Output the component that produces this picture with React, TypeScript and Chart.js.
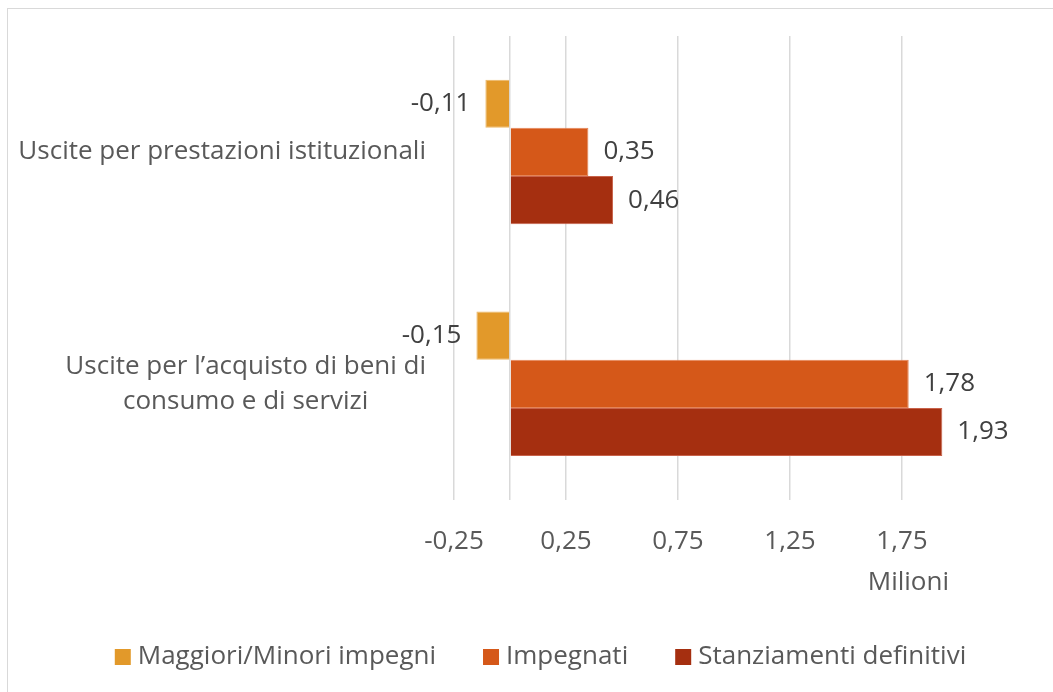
import React, { useEffect, useRef } from "react";
import { Chart, registerables } from "chart.js";

Chart.register(...registerables);

const categories: (string | string[])[] = [
  "Uscite per prestazioni istituzionali",
  ["Uscite per l’acquisto di beni di", "consumo e di servizi"],
];
const seriesNames = ["Maggiori/Minori impegni", "Impegnati", "Stanziamenti definitivi"];
const maggioriMinori = [-0.11, -0.15];
const impegnati = [0.35, 1.78];
const stanziamenti = [0.46, 1.93];
const xTicks = [-0.25, 0, 0.25, 0.75, 1.25, 1.75];
const unitLabel = "Milioni";

const colors = ["#E2992A", "#D55819", "#A52F10"];
const borders = ["#EDB866", "#E58456", "#C8624A"];
const FONT = '"Open Sans", sans-serif';
const FS = 26;

const fmt = (v: number) => v.toFixed(2).replace(".", ",");

const overlay = {
  id: "overlay",
  afterDatasetsDraw(chart: any) {
    const ctx = chart.ctx as CanvasRenderingContext2D;
    const ys = chart.scales.y;
    const area = chart.chartArea;
    ctx.save();
    ctx.font = `${FS}px ${FONT}`;
    ctx.textBaseline = "middle";

    // data labels
    ctx.fillStyle = "#404040";
    chart.data.datasets.forEach((ds: any, di: number) => {
      const meta = chart.getDatasetMeta(di);
      meta.data.forEach((bar: any, i: number) => {
        const v = ds.data[i] as number;
        const p = bar.getProps(["x", "y"], true);
        if (v < 0) {
          ctx.textAlign = "right";
          ctx.fillText(fmt(v), p.x - 15, p.y);
        } else {
          ctx.textAlign = "left";
          ctx.fillText(fmt(v), p.x + 15, p.y);
        }
      });
    });

    // category labels
    ctx.fillStyle = "#595959";
    (chart.data.labels as any[]).forEach((lab, i) => {
      const lines: string[] = Array.isArray(lab) ? lab : [lab];
      const y = ys.getPixelForValue(i);
      const right = area.left - 28;
      const maxW = Math.max(...lines.map((l) => ctx.measureText(l).width));
      const cx = right - maxW / 2;
      const lh = 35;
      ctx.textAlign = "center";
      lines.forEach((l, k) => ctx.fillText(l, cx, y + (k - (lines.length - 1) / 2) * lh));
    });

    // unit label
    ctx.textAlign = "right";
    ctx.fillText(unitLabel, area.right - 9, area.bottom + 83);

    // legend
    const box = 16;
    const gapText = 7;
    const gapItem = 47;
    const items = chart.data.datasets.map((ds: any) => ({
      label: ds.label as string,
      color: ds.backgroundColor as string,
      w: ctx.measureText(ds.label).width,
    }));
    const total =
      items.reduce((s: number, it: any) => s + box + gapText + it.w, 0) + gapItem * (items.length - 1);
    let x = chart.width / 2 + 10 - total / 2;
    const ly = chart.height - 35;
    ctx.textAlign = "left";
    items.forEach((it: any) => {
      ctx.fillStyle = it.color;
      ctx.fillRect(x, ly - box / 2, box, box);
      ctx.fillStyle = "#595959";
      ctx.fillText(it.label, x + box + gapText, ly);
      x += box + gapText + it.w + gapItem;
    });
    ctx.restore();
  },
};

export default function App() {
  const ref = useRef<HTMLCanvasElement>(null);
  useEffect(() => {
    if (!ref.current) return;
    const chart = new Chart(ref.current, {
      type: "bar",
      data: {
        labels: categories as any,
        datasets: [maggioriMinori, impegnati, stanziamenti].map((d, i) => ({
          label: seriesNames[i],
          data: d,
          backgroundColor: colors[i],
          borderColor: borders[i],
          borderWidth: 1,
          categoryPercentage: 0.623,
          barPercentage: 1,
        })),
      },
      options: {
        indexAxis: "y",
        animation: false,
        responsive: false,
        layout: { padding: { left: 446, right: 95, top: 27, bottom: 109 } },
        plugins: { legend: { display: false }, tooltip: { enabled: false } },
        scales: {
          y: { display: false },
          x: {
            min: -0.25,
            max: 2.0,
            afterBuildTicks: (scale: any) => {
              scale.ticks = xTicks.map((v) => ({ value: v }));
            },
            grid: { color: "#D9D9D9", lineWidth: 1.5, drawTicks: false },
            border: { display: false },
            ticks: {
              padding: 26,
              autoSkip: false,
              maxRotation: 0,
              color: "#595959",
              font: { family: FONT, size: FS },
              callback: (v: any) => (Number(v) === 0 ? "" : fmt(Number(v))),
            },
          },
        },
      },
      plugins: [overlay],
    });
    return () => chart.destroy();
  }, []);
  return (
    <div
      style={{
        position: "absolute",
        left: 7,
        top: 8,
        width: 1046,
        height: 684,
        boxSizing: "border-box",
        borderLeft: "1px solid #D9D9D9",
        borderTop: "1px solid #D9D9D9",
        overflow: "hidden",
        background: "#fff",
      }}
    >
      <canvas ref={ref} width={1045} height={683} style={{ display: "block" }} />
    </div>
  );
}
